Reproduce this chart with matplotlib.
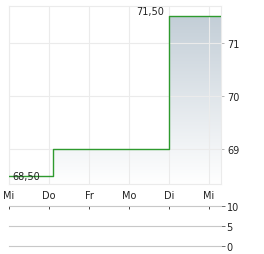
import matplotlib.pyplot as plt
import numpy as np
from matplotlib.colors import LinearSegmentedColormap

days = ['Mi', 'Do', 'Fr', 'Mo', 'Di', 'Mi']
# step points (x in day units, price)
price_x = [0.0, 1.1, 1.1, 4.0, 4.0, 5.3]
price_y = [68.5, 68.5, 69.0, 69.0, 71.5, 71.5]
price_ticks = [69, 70, 71]
vol_ticks = [0, 5, 10]
max_label = '71,50'
min_label = '68,50'

TXT = '#222222'
GRID = '#ebebeb'

fig = plt.figure(figsize=(2.64, 2.55), dpi=100)
ax = fig.add_axes([9/264, 1 - 185/255, 212/264, 178/255])
ax.set_xlim(0, 5.3)
ax.set_ylim(68.35, 71.69)

# gradient fill under the line
cmap = LinearSegmentedColormap.from_list('g', ['#ffffff', '#c3ced7'])
grad = np.linspace(0, 1, 256).reshape(-1, 1)
im = ax.imshow(grad, extent=[0, 5.3, 68.35, 71.5], origin='lower', aspect='auto',
               cmap=cmap, vmin=0, vmax=1, zorder=1)
poly = ax.fill_between(price_x, price_y, 68.35, color='none', zorder=1)
im.set_clip_path(poly.get_paths()[0], transform=ax.transData)
ax.plot(price_x, price_y, color='#2e9a2e', lw=1.0, zorder=3)

ax.set_xticks(range(len(days)))
ax.set_xticklabels(days)
ax.set_yticks(price_ticks)
ax.grid(True, color=GRID, lw=0.8, zorder=0)
ax.yaxis.tick_right()
ax.tick_params(axis='y', length=2.5, width=0.6, color='#aaaaaa', labelsize=7,
               labelcolor=TXT, pad=2)
ax.tick_params(axis='x', length=0, labelsize=7, labelcolor=TXT, pad=4)
for s in ax.spines.values():
    s.set_color(GRID)
    s.set_linewidth(0.8)

ax.text(3.88, 71.5, max_label, ha='right', va='bottom', fontsize=7, color=TXT, zorder=4)
ax.text(0.08, 68.5, min_label, ha='left', va='center', fontsize=7, color=TXT, zorder=4)

# volume panel (empty)
vx = fig.add_axes([9/264, 1 - 247/255, 212/264, 40/255])
vx.set_xlim(0, 5.3)
vx.set_ylim(0, 10)
for v in vol_ticks:
    vx.axhline(v, color='#c8c8c8', lw=0.8, clip_on=False)
vx.set_yticks(vol_ticks)
vx.yaxis.tick_right()
vx.tick_params(axis='y', length=3, width=0.6, color='#555555', labelsize=7,
               labelcolor=TXT, pad=1)
vx.set_xticks(range(len(days)))
vx.set_xticklabels([])
vx.xaxis.tick_top()
vx.tick_params(axis='x', direction='in', length=2.5, width=0.7, color='#444444')
for s in vx.spines.values():
    s.set_visible(False)

fig.savefig('out.png', dpi=100)
